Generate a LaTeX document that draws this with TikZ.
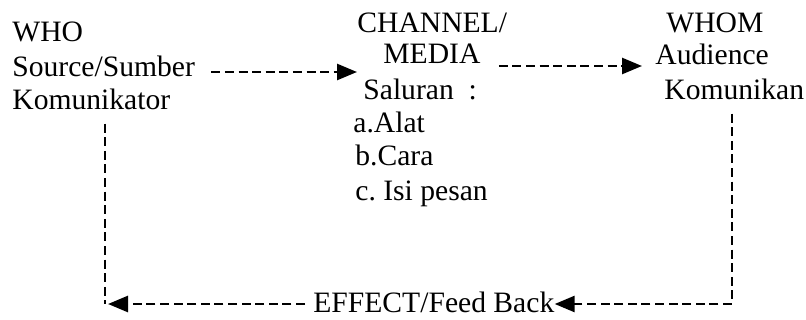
\documentclass[tikz,border=0pt]{standalone}
\usepackage{fontspec}
\setmainfont{Liberation Serif}
\usepackage{tikz}
\usetikzlibrary{arrows.meta}
\frenchspacing
\tikzset{
  lbl/.style={anchor=base west,inner sep=0pt,font=\fontsize{14.8}{17}\selectfont},
  dashline/.style={line width=1.3pt,dash pattern=on 4.5pt off 2.3pt},
  flow/.style={dashline,-{Triangle[length=10pt,width=8pt]}},
}

\begin{document}
\begin{tikzpicture}[x=0.5pt,y=-0.5pt]
\useasboundingbox (0,0) rectangle (806,320);
% who
\node[lbl] (who) at (12,42) {WHO};
\node[lbl] (source) at (12,77) {Source/Sumber};
\node[lbl] (komunikator) at (12,110) {Komunikator};
% channel
\node[lbl] (channel) at (357,33) {CHANNEL/};
\node[lbl] (media) at (383,64) {MEDIA};
\node[lbl] (saluran) at (363,100) {Saluran~~:};
\node[lbl] (alat) at (353,133) {a.Alat};
\node[lbl] (cara) at (355,166) {b.Cara};
\node[lbl] (isi) at (355,200) {c. Isi pesan};
% whom
\node[lbl] (whom) at (666,33) {WHOM};
\node[lbl] (audience) at (655,65) {Audience};
\node[lbl] (komunikan) at (664,100) {Komunikan};
% feedback
\node[lbl] (effect) at (313,312) {EFFECT/Feed Back};
\coordinate (tipa) at (357,72);
\coordinate (tipb) at (642,66);
\coordinate (fbl) at (105,304);
\coordinate (fbr) at (732,304);
\draw[flow,shorten <=8pt] (source.east |- tipa) -- (tipa);
\draw[flow,shorten <=9pt] (media.east |- tipb) -- (tipb);
\draw[flow,shorten <=6.5pt] (komunikan.south -| fbr) -- (fbr) -- (effect.east |- fbr);
\draw[dashline,shorten <=6.5pt] (komunikator.south -| fbl) -- (fbl);
\draw[flow,shorten <=4pt] (effect.west |- fbl) -- ([xshift=1.5pt]fbl);
\end{tikzpicture}
\end{document}
